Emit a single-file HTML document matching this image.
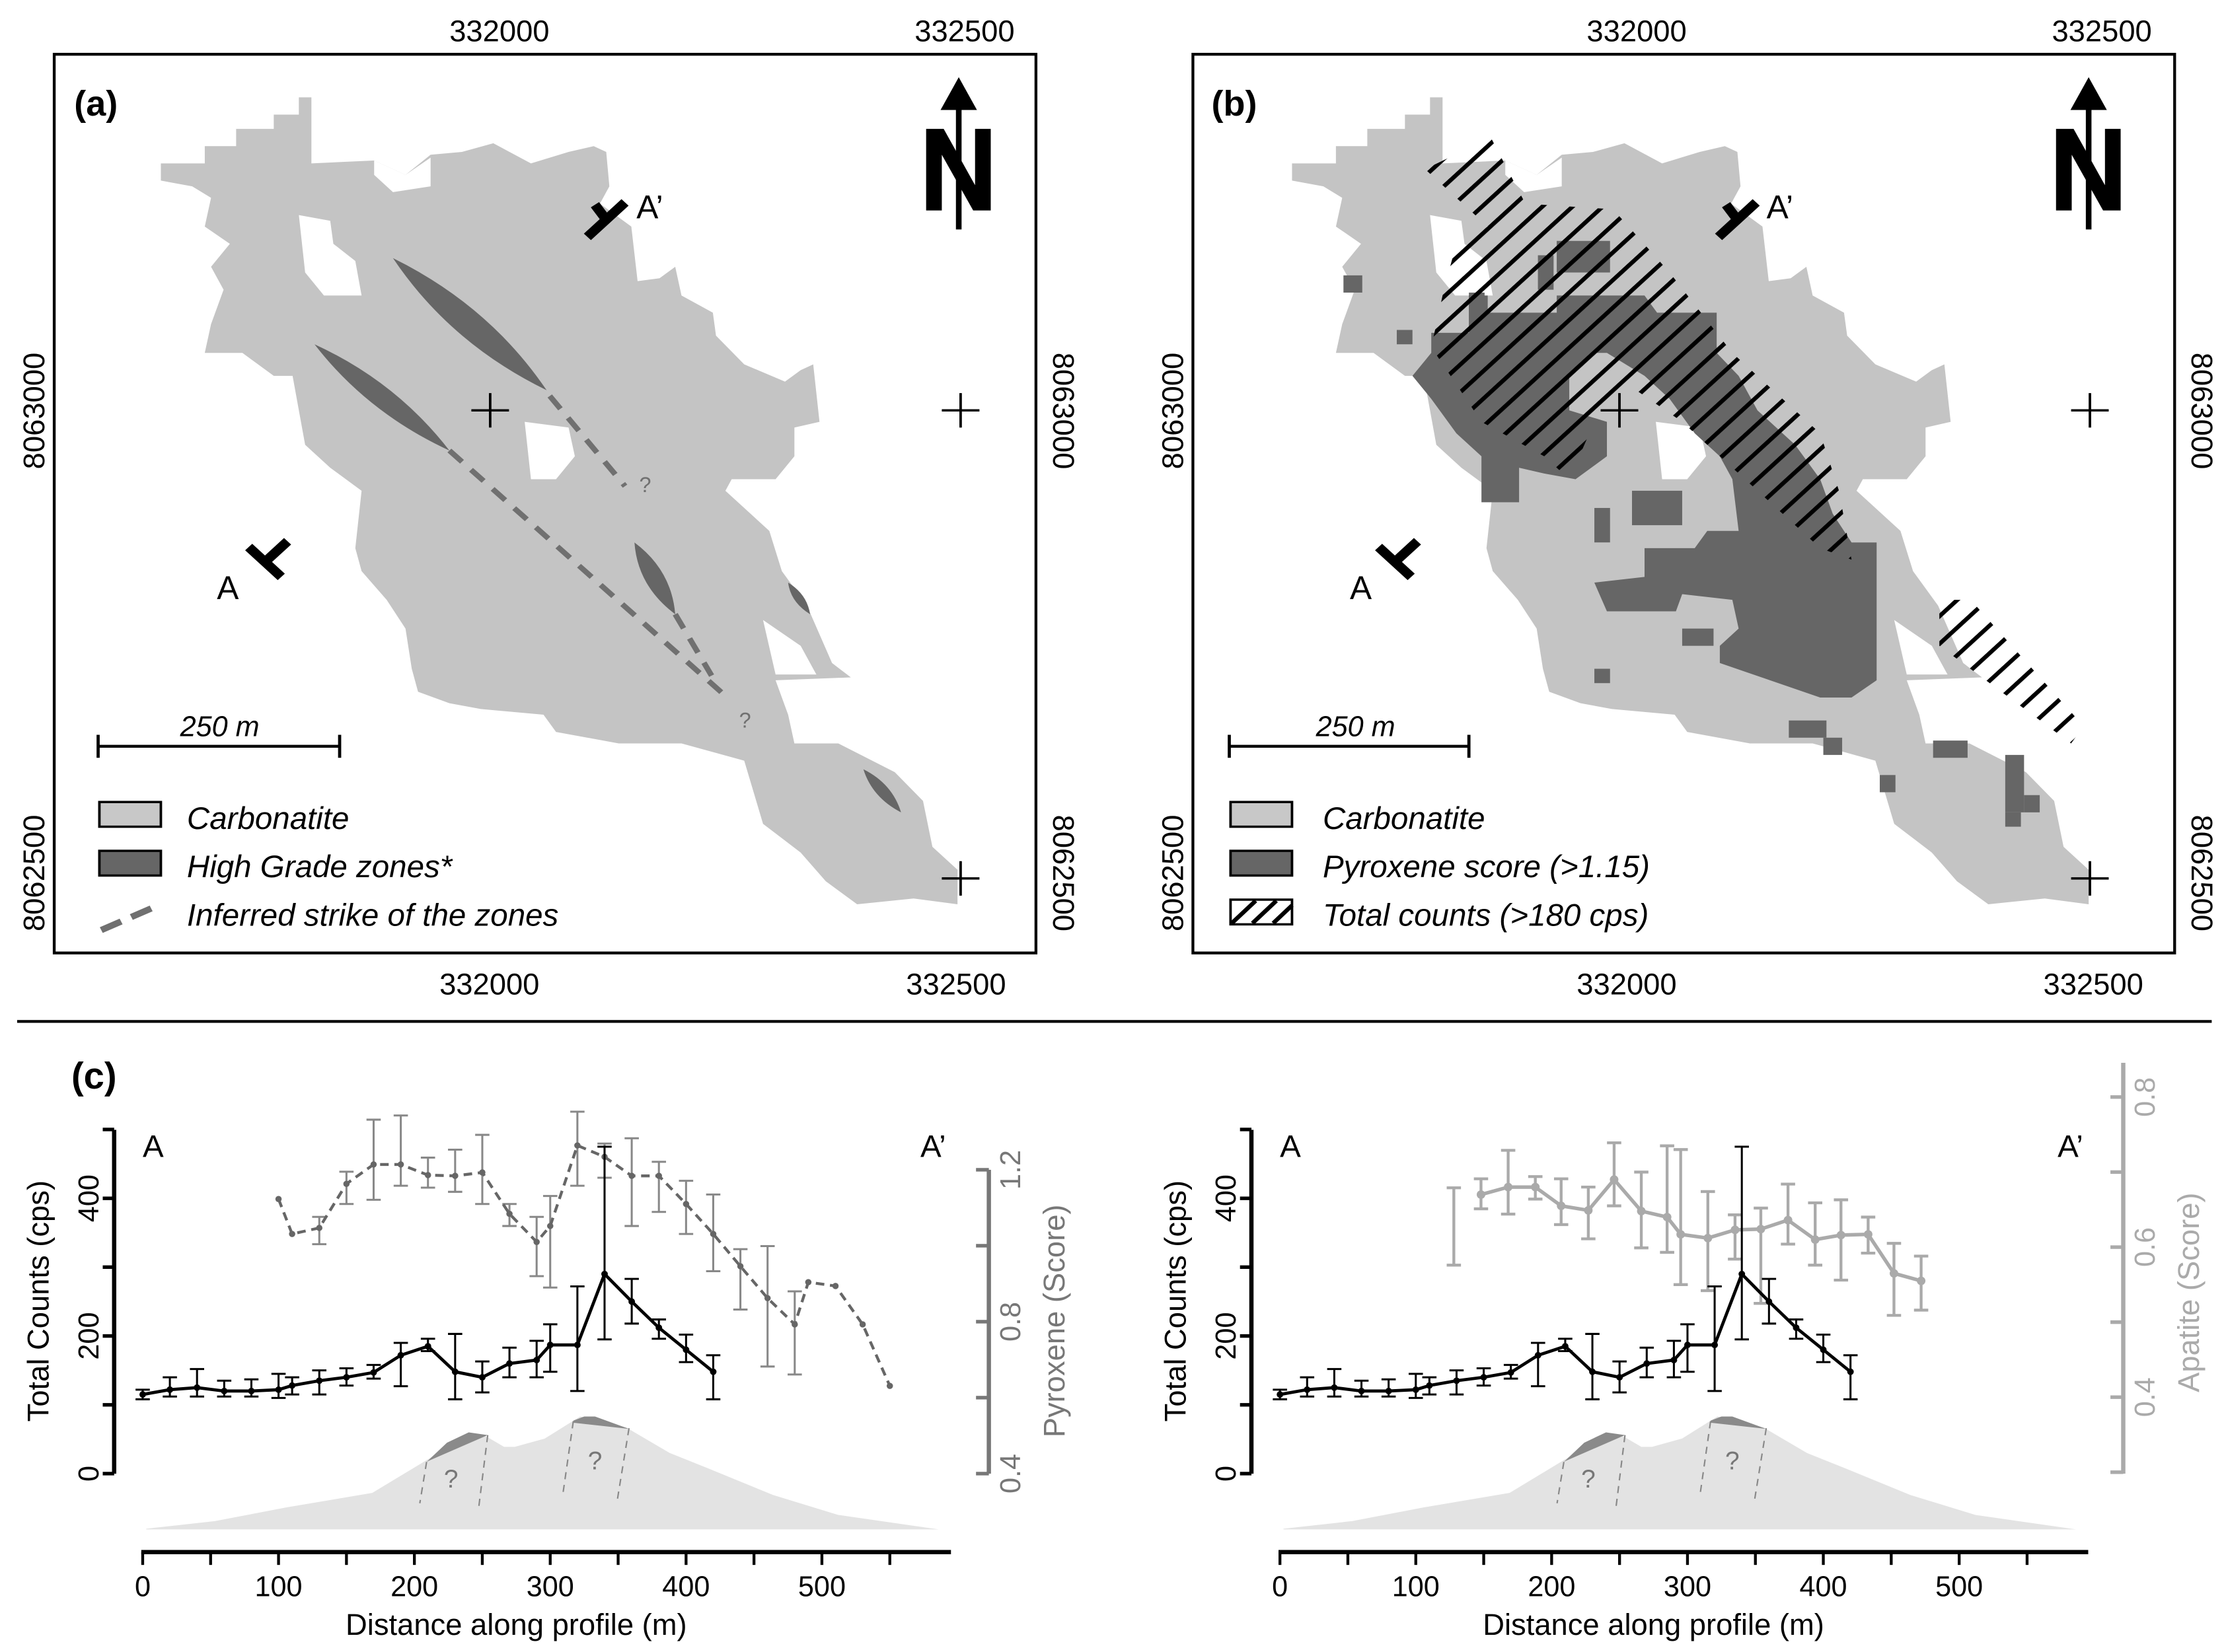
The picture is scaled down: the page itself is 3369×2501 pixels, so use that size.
<!DOCTYPE html>
<html><head><meta charset="utf-8"><style>
html,body{margin:0;padding:0;background:#fff;}
svg{display:block;}
text{font-family:"Liberation Sans",Arial,sans-serif;}
</style></head><body>
<svg id="fig" width="3369" height="2501" viewBox="0 0 1560 1158" xmlns="http://www.w3.org/2000/svg">
<defs>
<pattern id="hatch" patternUnits="userSpaceOnUse" width="34" height="34" patternTransform="rotate(45)"><rect x="0" y="0" width="7" height="34" fill="#000"/></pattern>
<polygon id="outline" points="170,190 240,190 240,160 290,160 290,130 350,130 350,105 390,105 390,75 410,75 410,190 510,185 560,210 600,175 650,170 700,155 760,190 820,170 860,160 880,170 885,230 870,260 920,300 930,395 965,390 990,370 1000,420 1050,450 1055,490 1100,540 1165,570 1190,550 1210,540 1220,640 1180,650 1180,700 1150,740 1080,740 1070,760 1140,830 1160,900 1200,960 1240,1060 1270,1085 1150,1090 1170,1150 1180,1200 1250,1200 1340,1250 1385,1300 1400,1380 1440,1420 1440,1480 1370,1470 1280,1480 1230,1440 1190,1390 1130,1340 1100,1230 1000,1200 900,1200 800,1180 780,1150 680,1140 630,1130 580,1110 570,1070 560,1000 530,950 490,900 480,860 490,760 440,720 400,680 390,620 380,560 350,560 300,520 240,520 250,470 270,410 250,370 280,330 240,300 250,250 220,230 170,220"/>
<g id="holes">
<polygon points="390,280 440,290 445,330 480,360 490,420 430,420 400,380" fill="#fff"/>
<polygon points="750,640 820,650 830,700 800,740 760,740" fill="#fff"/>
<polygon points="1180,780 1230,780 1230,840 1190,840" fill="#fff"/>
<polygon points="1130,985 1190,1030 1215,1080 1150,1080" fill="#fff"/>
<polygon points="510,185 560,210 600,180 600,230 540,240 510,210" fill="#fff"/>
</g>
</defs>

<!-- PANEL A -->
<g>
<rect x="38" y="38" width="688" height="630" fill="none" stroke="#000" stroke-width="2"/>
<g transform="translate(38,38) scale(0.4396,0.4026)">
<use href="#outline" fill="#c4c4c4"/>
<use href="#holes"/>
<g fill="#666">
<path d="M540,355 Q693,437 785,585 Q631,503 540,355Z"/>
<path d="M415,505 Q545,570 630,690 Q499,624 415,505Z"/>
<path d="M925,850 Q984,898 990,975 Q930,926 925,850Z"/>
<path d="M1170,920 Q1200,940 1205,975 Q1174,954 1170,920Z"/>
<path d="M1290,1245 Q1336,1270 1350,1320 Q1304,1294 1290,1245Z"/>
</g>
<g stroke="#707070" stroke-width="9" stroke-dasharray="28,20" fill="none">
<line x1="790" y1="595" x2="910" y2="752"/>
<line x1="630" y1="690" x2="1075" y2="1122"/>
<line x1="990" y1="975" x2="1048" y2="1082"/>
</g>
<g stroke="#000" stroke-width="4"><line x1="665" y1="620" x2="725" y2="620"/><line x1="695" y1="590" x2="695" y2="650"/>
<line x1="1415" y1="620" x2="1475" y2="620"/><line x1="1445" y1="590" x2="1445" y2="650"/>
<line x1="1415" y1="1435" x2="1475" y2="1435"/><line x1="1445" y1="1405" x2="1445" y2="1465"/></g>
<g stroke="#000" stroke-width="16" fill="none">
<line x1="850" y1="318" x2="910" y2="258"/><line x1="880" y1="288" x2="862" y2="262"/>
<line x1="310" y1="858" x2="362" y2="910"/><line x1="336" y1="884" x2="372" y2="848"/>
</g>
<g>
<line x1="1442" y1="80" x2="1442" y2="305" stroke="#000" stroke-width="9"/>
<polygon points="1413,97 1442,40 1471,97" fill="#000"/>
<polygon points="1390,130 1418,130 1468,228 1468,130 1493,130 1493,272 1465,272 1415,175 1415,272 1390,272" fill="#000"/>
</g>
<g stroke="#000" stroke-width="5"><line x1="70" y1="1205" x2="455" y2="1205"/><line x1="70" y1="1185" x2="70" y2="1225"/><line x1="455" y1="1185" x2="455" y2="1225"/></g>
<rect x="72" y="1302" width="98" height="43" fill="#c8c8c8" stroke="#000" stroke-width="4"/>
<rect x="72" y="1387" width="98" height="43" fill="#666" stroke="#000" stroke-width="4"/>
<line x1="75" y1="1525" x2="170" y2="1480" stroke="#707070" stroke-width="11" stroke-dasharray="35,18"/>
</g>
<text x="52" y="81" font-size="25" font-weight="bold">(a)</text>
<text x="446" y="153" font-size="23">A’</text>
<text x="152" y="420" font-size="23">A</text>
<text x="448" y="345" font-size="15" fill="#707070">?</text>
<text x="518" y="510" font-size="15" fill="#707070">?</text>
<text x="154" y="516" font-size="20" font-style="italic" text-anchor="middle">250 m</text>
<g font-size="22" font-style="italic">
<text x="131" y="581">Carbonatite</text><text x="131" y="615">High Grade zones*</text><text x="131" y="649">Inferred strike of the zones</text></g>
<g font-size="21">
<text x="350" y="29" text-anchor="middle">332000</text><text x="676" y="29" text-anchor="middle">332500</text>
<text x="343" y="697" text-anchor="middle">332000</text><text x="670" y="697" text-anchor="middle">332500</text>
<text transform="translate(31,288) rotate(-90)" text-anchor="middle">8063000</text>
<text transform="translate(31,612) rotate(-90)" text-anchor="middle">8062500</text>
<text transform="translate(738,288) rotate(90)" text-anchor="middle">8063000</text>
<text transform="translate(738,612) rotate(90)" text-anchor="middle">8062500</text>
</g>
</g>

<!-- PANEL B -->
<g>
<rect x="836" y="38" width="688" height="630" fill="none" stroke="#000" stroke-width="2"/>
<g transform="translate(836,38) scale(0.4396,0.4026)">
<g transform="translate(-12,0)">
<use href="#outline" fill="#c4c4c4"/>
<use href="#holes"/>
</g>
<g fill="#666">
<polygon points="380,485 440,485 440,420 470,420 470,450 580,450 580,420 720,420 740,450 835,450 835,520 870,560 900,620 960,680 1000,740 1020,800 1050,850 1090,850 1090,1090 1050,1120 1000,1120 920,1090 840,1060 840,1030 870,1000 860,950 780,940 770,970 660,970 640,920 720,910 720,860 800,860 820,830 870,830 860,740 840,700 800,660 760,600 720,560 660,520 640,520 600,560 600,620 660,640 660,700 610,740 560,730 520,720 520,780 460,780 460,700 420,660 380,600 350,560 380,520"/>
<rect x="240" y="385" width="30" height="30"/><rect x="325" y="480" width="25" height="25"/>
<rect x="580" y="325" width="85" height="55"/><rect x="550" y="350" width="25" height="60"/>
<rect x="440" y="415" width="25" height="60"/><rect x="700" y="760" width="80" height="60"/>
<rect x="640" y="790" width="25" height="60"/><rect x="640" y="1070" width="25" height="25"/>
<rect x="780" y="1000" width="50" height="30"/><rect x="950" y="1160" width="60" height="30"/>
<rect x="1180" y="1195" width="55" height="30"/><rect x="1095" y="1255" width="25" height="30"/>
<rect x="1295" y="1220" width="30" height="100"/><rect x="1325" y="1290" width="25" height="30"/>
<rect x="1295" y="1320" width="25" height="25"/><rect x="1005" y="1190" width="30" height="30"/>
</g>
<g fill="url(#hatch)">
<polygon points="370,200 475,145 530,260 670,270 760,380 860,520 1000,660 1030,760 1050,880 1000,860 860,720 780,640 700,580 640,640 600,740 560,700 460,640 380,510 400,410 420,330 470,300"/>
<polygon points="1190,950 1240,950 1420,1170 1400,1200 1190,1030"/>
</g>
<g stroke="#000" stroke-width="4"><line x1="650" y1="620" x2="710" y2="620"/><line x1="680" y1="590" x2="680" y2="650"/>
<line x1="1400" y1="620" x2="1460" y2="620"/><line x1="1430" y1="590" x2="1430" y2="650"/>
<line x1="1400" y1="1435" x2="1460" y2="1435"/><line x1="1430" y1="1405" x2="1430" y2="1465"/></g>
<g stroke="#000" stroke-width="16" fill="none">
<line x1="838" y1="318" x2="898" y2="258"/><line x1="868" y1="288" x2="850" y2="262"/>
<line x1="296" y1="858" x2="348" y2="910"/><line x1="322" y1="884" x2="358" y2="848"/>
</g>
<g>
<line x1="1428" y1="80" x2="1428" y2="305" stroke="#000" stroke-width="9"/>
<polygon points="1399,97 1428,40 1457,97" fill="#000"/>
<polygon points="1376,130 1404,130 1454,228 1454,130 1479,130 1479,272 1451,272 1401,175 1401,272 1376,272" fill="#000"/>
</g>
<g stroke="#000" stroke-width="5"><line x1="58" y1="1205" x2="440" y2="1205"/><line x1="58" y1="1185" x2="58" y2="1225"/><line x1="440" y1="1185" x2="440" y2="1225"/></g>
<rect x="60" y="1302" width="98" height="43" fill="#c8c8c8" stroke="#000" stroke-width="4"/>
<rect x="60" y="1387" width="98" height="43" fill="#666" stroke="#000" stroke-width="4"/>
<rect x="60" y="1472" width="98" height="43" fill="#fff" stroke="#000" stroke-width="4"/>
<g stroke="#000" stroke-width="7"><line x1="62" y1="1513" x2="100" y2="1474"/><line x1="95" y1="1513" x2="133" y2="1474"/><line x1="128" y1="1513" x2="158" y2="1482"/></g>
</g>
<text x="849" y="81" font-size="25" font-weight="bold">(b)</text>
<text x="1238" y="153" font-size="23">A’</text>
<text x="946" y="420" font-size="23">A</text>
<text x="950" y="516" font-size="20" font-style="italic" text-anchor="middle">250 m</text>
<g font-size="22" font-style="italic">
<text x="927" y="581">Carbonatite</text><text x="927" y="615">Pyroxene score (&gt;1.15)</text><text x="927" y="649">Total counts (&gt;180 cps)</text></g>
<g font-size="21">
<text x="1147" y="29" text-anchor="middle">332000</text><text x="1473" y="29" text-anchor="middle">332500</text>
<text x="1140" y="697" text-anchor="middle">332000</text><text x="1467" y="697" text-anchor="middle">332500</text>
<text transform="translate(829,288) rotate(-90)" text-anchor="middle">8063000</text>
<text transform="translate(829,612) rotate(-90)" text-anchor="middle">8062500</text>
<text transform="translate(1536,288) rotate(90)" text-anchor="middle">8063000</text>
<text transform="translate(1536,612) rotate(90)" text-anchor="middle">8062500</text>
</g>
</g>

<line x1="12" y1="716" x2="1550" y2="716" stroke="#000" stroke-width="2"/>
<text x="50" y="763" font-size="26" font-weight="bold">(c)</text>
<g id="charts"></g>
</svg>
<script>
const tcDist=[0,20,40,60,80,100,110,130,150,170,190,210,230,250,270,290,300,320,340,360,380,400,420];
const tcVal=[115,122,125,120,120,122,128,135,140,147,172,185,148,140,160,165,187,187,290,250,212,180,148];
const tcLo=[108,112,112,112,112,110,115,115,128,138,127,178,108,118,140,140,148,120,195,218,196,162,108];
const tcHi=[122,140,152,135,137,145,140,150,153,158,190,196,203,163,183,193,217,272,475,283,224,202,172];
const pyDist=[100,110,130,150,170,190,210,230,250,270,290,300,320,340,360,380,400,420,440,460,480,490,510,530,550];
const pyVal=[1.123,1.031,1.047,1.163,1.214,1.214,1.186,1.184,1.193,1.084,1.01,1.052,1.264,1.234,1.184,1.184,1.110,1.031,0.946,0.862,0.793,0.904,0.894,0.793,0.631];
const pyHi=[null,null,1.076,1.195,1.332,1.343,1.232,1.253,1.292,1.11,1.076,1.131,1.353,1.269,1.283,1.221,1.171,1.135,0.991,0.999,0.88,null,null,null,null];
const pyLo=[null,null,1.004,1.11,1.121,1.158,1.153,1.142,1.11,1.052,0.92,0.89,1.158,1.179,1.052,1.089,1.031,0.933,0.832,0.682,0.661,null,null,null,null];
const apDist=[128,148,168,188,207,227,246,266,285,295,315,335,354,374,394,413,433,452,472];
const apVal=[null,0.670,0.680,0.680,0.655,0.649,0.690,0.648,0.640,0.617,0.612,0.623,0.624,0.636,0.610,0.616,0.617,0.565,0.555];
const apHi=[0.679,0.691,0.729,0.694,0.691,0.680,0.739,0.700,0.735,0.730,0.674,0.643,0.652,0.684,0.659,0.663,0.640,0.605,0.588];
const apLo=[0.576,0.651,0.644,0.664,0.630,0.611,0.655,0.599,0.593,0.550,0.542,0.584,0.525,0.604,0.576,0.556,0.592,0.509,0.516];
const xTicks=[0,100,200,300,400,500];
const yTicks=[0,200,400];
const pyTicks=[0.4,0.8,1.2];
const apTicks=[0.4,0.6,0.8];
const profDist=[2.6,53,106,169,211,240,253,266,274,296,322,333,356,388,417,464,512,586];
const profHeight=[-80,-69,-49,-28,22,60,54,39,39,51,83,80,67,30,7,-31,-60,-81];

const NS='http://www.w3.org/2000/svg';
const root=document.getElementById('charts');
function mk(tag,attrs,parent){const e=document.createElementNS(NS,tag);for(const k in attrs)e.setAttribute(k,attrs[k]);(parent||root).appendChild(e);return e;}
function txt(s,attrs,parent){const e=mk('text',attrs,parent);e.textContent=s;return e;}

function drawChart(dx,kind){
  const g=mk('g',{});
  
  
  const xs=m=>dx+100+m*0.952;
  const yT=v=>1033-v*0.4825;
  const yS=kind==='py'?(s=>1033-(s-0.4)*266.25):(s=>769+(0.8-s)*526);
  let pts=`${xs(profDist[0])},${yT(-81)} `+profDist.map((d,i)=>`${xs(d)},${yT(profHeight[i])}`).join(' ');
  const sil=mk('polygon',{points:pts,fill:'#e3e3e3'},g);
  
  
  const cap1=mk('polygon',{points:[[209,17],[224,45],[240,60],[254,56],[211,19]].map(p=>xs(p[0])+','+yT(p[1])).join(' '),fill:'#8a8a8a'},g);
  
  
  const cap2=mk('polygon',{points:[[317,77],[325,83],[333,83],[358,65],[317,74]].map(p=>xs(p[0])+','+yT(p[1])).join(' '),fill:'#8a8a8a'},g);
  
  
  [[209,17,204,-43],[254,56,247,-55],[317,76,309,-34],[358,66,349,-43]].forEach(l=>{
    const e=mk('line',{x1:xs(l[0]),y1:yT(l[1]),x2:xs(l[2]),y2:yT(l[3]),stroke:'#888','stroke-width':1,'stroke-dasharray':'5,4'},g);
    
    
  });
  txt('?',{x:xs(227),y:yT(-20),'font-size':18,fill:'#777','text-anchor':'middle'},g);
  txt('?',{x:xs(333),y:yT(6),'font-size':18,fill:'#777','text-anchor':'middle'},g);
  const ya=mk('line',{x1:dx+80,y1:792,x2:dx+80,y2:1033,stroke:'#000','stroke-width':3},g);
  
  
  for(let v=0;v<=500;v+=100){mk('line',{x1:dx+72,y1:yT(v),x2:dx+80,y2:yT(v),stroke:'#000','stroke-width':2.5},g);}
  yTicks.forEach(v=>{const t=txt(String(v),{transform:`translate(${dx+69},${yT(v)}) rotate(-90)`,'font-size':20,'text-anchor':'middle'},g);
    
    });
  const yt=txt('Total Counts (cps)',{transform:`translate(${dx+34},912) rotate(-90)`,'font-size':21,'text-anchor':'middle'},g);
  
  
  const xa=mk('line',{x1:xs(0)-1,y1:1088,x2:xs(595),y2:1088,stroke:'#000','stroke-width':3},g);
  
  
  for(let m=0;m<=550;m+=50){mk('line',{x1:xs(m),y1:1088,x2:xs(m),y2:1097,stroke:'#000','stroke-width':2},g);}
  xTicks.forEach(m=>{const t=txt(String(m),{x:xs(m),y:1119,'font-size':20,'text-anchor':'middle'},g);
    
    });
  const xt=txt('Distance along profile (m)',{x:xs(275),y:1146,'font-size':21,'text-anchor':'middle'},g);
  
  
  txt('A',{x:dx+100,y:811,'font-size':22},g);
  txt('A’',{x:dx+645,y:811,'font-size':22},g);
  const col=kind==='py'?'#777':'#aaa';
  const rx=kind==='py'?693:691;
  const top=kind==='py'?820:745;
  const ra=mk('line',{x1:dx+rx,y1:top,x2:dx+rx,y2:1033,stroke:col,'stroke-width':3},g);
  
  
  if(kind==='py'){for(let s=0.4;s<=1.21;s+=0.2)mk('line',{x1:dx+rx,y1:yS(s),x2:dx+rx-9,y2:yS(s),stroke:col,'stroke-width':2.5},g);}
  else{for(let s=0.3;s<=0.81;s+=0.1)mk('line',{x1:dx+rx,y1:yS(s),x2:dx+rx-9,y2:yS(s),stroke:col,'stroke-width':2.5},g);}
  (kind==='py'?pyTicks:apTicks).forEach(s=>{const t=txt(s.toFixed(1),{transform:`translate(${dx+rx+22},${yS(s)}) rotate(-90)`,'font-size':20,'text-anchor':'middle',fill:col},g);
    
    });
  const rt=txt(kind==='py'?'Pyroxene (Score)':'Apatite (Score)',{transform:`translate(${dx+rx+53},${kind==='py'?926:906}) rotate(-90)`,'font-size':21,'text-anchor':'middle',fill:col},g);
  
  
  const D=kind==='py'?pyDist:apDist, V=kind==='py'?pyVal:apVal, H=kind==='py'?pyHi:apHi, L=kind==='py'?pyLo:apLo;
  const ecol=kind==='py'?'#888':'#aaa';
  D.forEach((d,i)=>{if(H[i]==null)return;const x=xs(d);
    const eb=mk('path',{d:`M${x},${yS(H[i])}V${yS(L[i])}M${x-5},${yS(H[i])}h10M${x-5},${yS(L[i])}h10`,stroke:ecol,'stroke-width':kind==='py'?1.4:2,fill:'none'},g);
    
    });
  const sp=D.map((d,i)=>V[i]==null?null:`${xs(d)},${yS(V[i])}`).filter(p=>p).join(' ');
  const sl=mk('polyline',{points:sp,fill:'none',stroke:kind==='py'?'#666':'#aaa','stroke-width':kind==='py'?2:2.5,'stroke-dasharray':kind==='py'?'6,4':'none'},g);
  
  
  D.forEach((d,i)=>{if(V[i]==null)return;const c=mk('circle',{cx:xs(d),cy:yS(V[i]),r:kind==='py'?2.2:3,fill:kind==='py'?'#666':'#aaa'},g);
    
    });
  tcDist.forEach((d,i)=>{const x=xs(d);
    const eb=mk('path',{d:`M${x},${yT(tcHi[i])}V${yT(tcLo[i])}M${x-5},${yT(tcHi[i])}h10M${x-5},${yT(tcLo[i])}h10`,stroke:'#000','stroke-width':1.4,fill:'none'},g);
    
    });
  const tl=mk('polyline',{points:tcDist.map((d,i)=>`${xs(d)},${yT(tcVal[i])}`).join(' '),fill:'none',stroke:'#000','stroke-width':2.2},g);
  
  
  tcDist.forEach((d,i)=>{const c=mk('circle',{cx:xs(d),cy:yT(tcVal[i]),r:2.3,fill:'#000'},g);
    
    });
}
drawChart(0,'py');
drawChart(797,'ap');
</script>
</body></html>
